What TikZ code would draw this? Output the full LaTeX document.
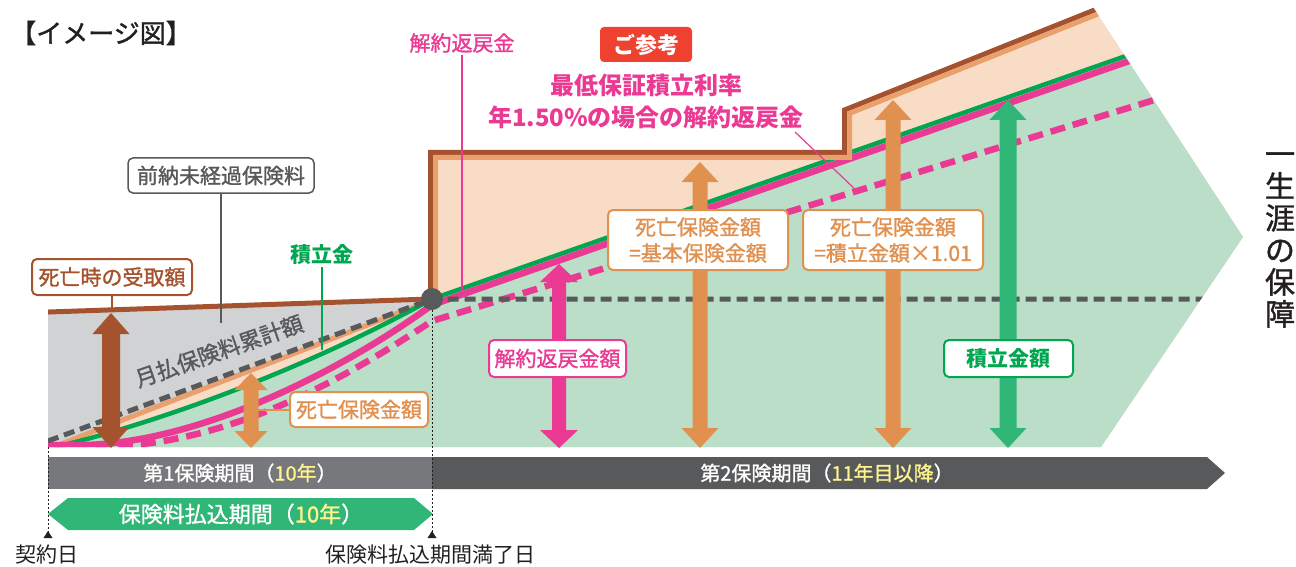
\documentclass[tikz,border=0pt]{standalone}
\usepackage{fontspec}
\setmainfont{Noto Sans CJK JP}
\newfontfamily\jpmed[FakeBold=1.3]{Noto Sans CJK JP}
\usetikzlibrary{calc}
\definecolor{grayF}{HTML}{D1D2D4}
\definecolor{peachF}{HTML}{F8DCC6}
\definecolor{greenF}{HTML}{BADEC7}
\definecolor{brownC}{HTML}{A5532E}
\definecolor{orangeL}{HTML}{EAA06C}
\definecolor{orangeA}{HTML}{E0904F}
\definecolor{greenL}{HTML}{00A650}
\definecolor{greenA}{HTML}{30B676}
\definecolor{pinkC}{HTML}{EA3A93}
\definecolor{dgray}{HTML}{58595B}
\definecolor{barA}{HTML}{77787B}
\definecolor{yelT}{HTML}{FFF38E}
\definecolor{redC}{HTML}{EE4130}
\definecolor{txtC}{HTML}{231F20}
\newcommand{\fsz}[2]{\fontsize{#1pt}{#2pt}\selectfont}
\newcommand{\myvarrow}[7]{%
  \fill[#1] ({#2},{#3}) -- ({#2+#6},{#3+#7}) -- ({#2+#5},{#3+#7}) -- ({#2+#5},{#4-#7}) -- ({#2+#6},{#4-#7}) -- ({#2},{#4}) -- ({#2-#6},{#4-#7}) -- ({#2-#5},{#4-#7}) -- ({#2-#5},{#3+#7}) -- ({#2-#6},{#3+#7}) -- cycle;}
\tikzset{
  lbox/.style={draw, line width=2pt, rounded corners=5pt, fill=white, inner sep=0pt, font={\jpmed\fsz{21}{26}}, align=center},
  conn/.style={line width=2pt},
  dline/.style={dgray, line width=5pt, dash pattern=on 11pt off 6pt},
  pdline/.style={pinkC, line width=6.5pt, dash pattern=on 15pt off 8pt},
  bartext/.style={text=white, font={\jpmed\fsz{20}{24}}},
}
\begin{document}
\begin{tikzpicture}[x=1pt,y=-1pt]
\useasboundingbox (0,0) rectangle (1296,567);

% ---------- chart area ----------
\begin{scope}
\clip (48,-20) -- (1075.4,-20) -- (1243,237) -- (1101,447) -- (48,447) -- cycle;
\fill[grayF] (48,312) -- (432,299) -- (432,447) -- (48,447) -- cycle;
\fill[peachF] (48,449) -- (432,300) -- (432,447) -- cycle;
\fill[peachF] (432,447) -- (432,152) -- (845,152) -- (845,110) -- (1120,0) -- (1300,0) -- (1300,447) -- cycle;
\fill[greenF] (48,447) -- (55,447) .. controls (150,425) and (300,372) .. (432,299) -- (1300,-5) -- (1300,447) -- cycle;
\draw[orangeL, line width=5pt] (48,449) -- (432,300);
\draw[greenL, line width=4.5pt] (55,447) .. controls (150,425) and (300,372) .. (432,299) -- (1300,-5);
\draw[pdline] (95,447) .. controls (230,447) and (350,375) .. (432,321) -- (1300,55.4);
\draw[pinkC, line width=6.5pt] (40,445) -- (85,445) .. controls (200,442) and (340,372) .. (432,305) -- (1300,1.2);
\draw[dline] (48,441) -- (432,299) -- (1300,299);
\draw[brownC, line width=5pt, line join=miter] (40,312.3) -- (430.5,299) -- (430.5,152.5) -- (844.5,152.5) -- (844.5,110) -- (1120,-0.2);
\draw[orangeL, line width=5pt, line join=miter] (435.5,300) -- (435.5,157.5) -- (849.5,157.5) -- (849.5,113.4) -- (1130,1.2);
\end{scope}

% ---------- connector end points ----------
\coordinate (zennoEnd) at (221,323);
\coordinate (tsumiEnd) at (322,350);
\coordinate (kaiyakuEnd) at (462,295);
\coordinate (minEnd) at (858,192);
\coordinate (minStart) at (795,132);
\coordinate (brownTop) at (111,312);
\coordinate (smallArr) at (258,409.5);

\node[circle, fill=dgray, minimum size=22pt, inner sep=0pt] (pt) at (432,299) {};

% ---------- arrows ----------
\myvarrow{brownC}{111}{313}{448}{9}{18.5}{21}
\myvarrow{orangeA}{251}{373}{448}{7.5}{16.5}{17}
\myvarrow{pinkC}{559}{264}{448}{7}{19}{18}
\myvarrow{orangeA}{700}{162}{448}{7.5}{18.5}{20}
\myvarrow{orangeA}{893}{100}{448}{7.5}{18.5}{20}
\myvarrow{greenA}{1008}{100}{448}{8.5}{18.5}{20}

% ---------- labels ----------
\node[font={\jpmed\fsz{26}{30}}, text=txtC, inner sep=0pt] (title) at (101,33) {【イメージ図】};

\node[lbox, draw=dgray, text=dgray, line width=1.5pt, minimum width=186pt, minimum height=35pt] (zenno) at (221,175.5) {前納未経過保険料};
\draw[dgray, conn] (zenno.south) -- (zennoEnd);

\node[lbox, draw=brownC, text=brownC, minimum width=160pt, minimum height=36pt] (shibo) at (112,277) {死亡時の受取額};
\draw[brownC, conn] (shibo.south) -- (shibo.south |- brownTop);

\node[text=greenL, font={\fsz{21}{25}\bfseries}, inner sep=2pt] (tsumi) at (322,255) {積立金};
\draw[greenL, conn] (tsumi.south) -- (tsumiEnd);

\node[text=pinkC, font={\jpmed\fsz{21}{25}}, inner sep=2pt] (kaiyaku) at (462,43) {解約返戻金};
\draw[pinkC, conn] (kaiyaku.south) -- (kaiyakuEnd);

\node[fill=redC, rounded corners=4pt, text=white, font={\fsz{22}{26}\bfseries}, minimum width=92pt, minimum height=35pt, inner sep=0pt] (sanko) at (646,44.5) {ご参考};
\node[text=pinkC, font={\fsz{24}{28}\bfseries}, inner sep=0pt] (min1) at (646,85) {最低保証積立利率};
\node[text=pinkC, font={\fsz{24}{28}\bfseries}, inner sep=0pt] (min2) at (646,117) {年1.50\%の場合の解約返戻金};
\draw[pinkC, line width=1.2pt] (minStart) -- (minEnd);

\node[rotate=19, text=dgray, font={\jpmed\fsz{22}{26}}, inner sep=0pt] (geppara) at (219,351) {月払保険料累計額};

\node[lbox, draw=orangeA, text=orangeA, minimum width=138pt, minimum height=35pt] (shiboS) at (359,409.5) {死亡保険金額};
\draw[orangeA, conn] (shiboS.west) -- (smallArr);

\node[lbox, draw=pinkC, text=pinkC, minimum width=137pt, minimum height=37pt] (kaiyakuG) at (557.5,358.5) {解約返戻金額};

\node[lbox, draw=orangeA, text=orangeA, minimum width=180pt, minimum height=60pt] (kihon) at (698,240) {死亡保険金額\\=基本保険金額};
\node[lbox, draw=orangeA, text=orangeA, minimum width=180pt, minimum height=60pt] (tsumiX) at (893,240) {死亡保険金額\\=積立金額×1.01};

\node[lbox, draw=greenL, text=greenL, font={\fsz{21}{26}\bfseries}, minimum width=129pt, minimum height=37pt] (tsumiG) at (1008.5,358.5) {積立金額};

\node[font={\jpmed\fsz{30}{32}}, text=txtC, align=center, inner sep=0pt] (shogai) at (1280,240) {一\\生\\涯\\の\\保\\障};

% ---------- period bars ----------
\fill[barA] (48,457) rectangle (432,489);
\fill[dgray] (432,457) -- (1207,457) -- (1225,473) -- (1207,489) -- (432,489) -- cycle;
\fill[greenA] (48,514) -- (68,498) -- (414,498) -- (433,514) -- (414,530) -- (68,530) -- cycle;
\node[bartext] (p1) at (240,473) {第1保険期間（\textcolor{yelT}{10年}）};
\node[bartext] (p2) at (827,473) {第2保険期間（\textcolor{yelT}{11年目以降}）};
\node[bartext, font={\jpmed\fsz{22}{26}}] (p3) at (241,514) {保険料払込期間（\textcolor{yelT}{10年}）};

% ---------- date markers ----------
\draw[txtC, line width=1pt, dash pattern=on 2pt off 2pt] (48,447) -- (48,533);
\draw[txtC, line width=1pt, dash pattern=on 2pt off 2pt] (pt.south) -- (432,533);
\fill[txtC] (48,531) -- (52.5,538) -- (43.5,538) -- cycle;
\fill[txtC] (432,531) -- (436.5,538) -- (427.5,538) -- cycle;
\node[font={\fsz{21}{25}}, text=txtC] (keiyaku) at (47,555) {契約日};
\node[font={\fsz{21}{25}}, text=txtC] (manryo) at (430,555) {保険料払込期間満了日};
\end{tikzpicture}
\end{document}
